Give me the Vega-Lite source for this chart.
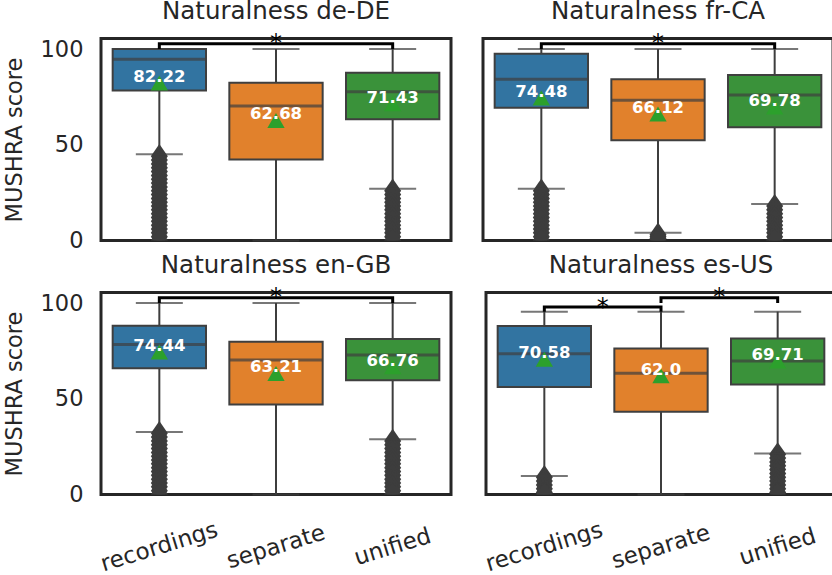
{
"$schema": "https://vega.github.io/schema/vega-lite/v6.json",
"padding": {"left": 1, "top": -3.5, "right": 0, "bottom": 0},
"datasets": {
"rows": [
{"lang":"de-DE","kind":"box","system":"recordings","low":45.0,"q1":78.4,"median":94.6,"q3":100,"high":100,"mean":82.22,"label":"82.22"},
{"lang":"de-DE","kind":"box","system":"separate","low":0,"q1":42.3,"median":70.2,"q3":82.4,"high":100,"mean":62.68,"label":"62.68"},
{"lang":"de-DE","kind":"box","system":"unified","low":27.0,"q1":63.3,"median":77.7,"q3":87.6,"high":100,"mean":71.43,"label":"71.43"},
{"lang":"fr-CA","kind":"box","system":"recordings","low":27.0,"q1":69.3,"median":84.2,"q3":97.5,"high":100,"mean":74.48,"label":"74.48"},
{"lang":"fr-CA","kind":"box","system":"separate","low":4.0,"q1":52.3,"median":73.2,"q3":84.2,"high":100,"mean":66.12,"label":"66.12"},
{"lang":"fr-CA","kind":"box","system":"unified","low":19.1,"q1":59.2,"median":76.0,"q3":86.4,"high":100,"mean":69.78,"label":"69.78"},
{"lang":"en-GB","kind":"box","system":"recordings","low":32.7,"q1":65.9,"median":78.4,"q3":88.1,"high":100,"mean":74.44,"label":"74.44"},
{"lang":"en-GB","kind":"box","system":"separate","low":0,"q1":47.0,"median":70.2,"q3":79.8,"high":100,"mean":63.21,"label":"63.21"},
{"lang":"en-GB","kind":"box","system":"unified","low":28.9,"q1":59.7,"median":72.8,"q3":81.2,"high":100,"mean":66.76,"label":"66.76"},
{"lang":"es-US","kind":"box","system":"recordings","low":9.6,"q1":56.1,"median":73.5,"q3":88.0,"high":95.5,"mean":70.58,"label":"70.58"},
{"lang":"es-US","kind":"box","system":"separate","low":0,"q1":43.2,"median":63.3,"q3":76.3,"high":95.5,"mean":62.0,"label":"62.0"},
{"lang":"es-US","kind":"box","system":"unified","low":21.4,"q1":57.5,"median":69.7,"q3":81.5,"high":95.5,"mean":69.71,"label":"69.71"},
{"lang":"de-DE","kind":"br","id":1,"o":1,"system":"recordings","y":100},
{"lang":"de-DE","kind":"br","id":1,"o":2,"system":"recordings","y":102.8},
{"lang":"de-DE","kind":"br","id":1,"o":3,"system":"unified","y":102.8},
{"lang":"de-DE","kind":"br","id":1,"o":4,"system":"unified","y":100},
{"lang":"fr-CA","kind":"br","id":1,"o":1,"system":"recordings","y":100},
{"lang":"fr-CA","kind":"br","id":1,"o":2,"system":"recordings","y":102.8},
{"lang":"fr-CA","kind":"br","id":1,"o":3,"system":"unified","y":102.8},
{"lang":"fr-CA","kind":"br","id":1,"o":4,"system":"unified","y":100},
{"lang":"en-GB","kind":"br","id":1,"o":1,"system":"recordings","y":100},
{"lang":"en-GB","kind":"br","id":1,"o":2,"system":"recordings","y":102.8},
{"lang":"en-GB","kind":"br","id":1,"o":3,"system":"unified","y":102.8},
{"lang":"en-GB","kind":"br","id":1,"o":4,"system":"unified","y":100},
{"lang":"es-US","kind":"br","id":1,"o":1,"system":"recordings","y":95.5},
{"lang":"es-US","kind":"br","id":1,"o":2,"system":"recordings","y":97.9},
{"lang":"es-US","kind":"br","id":1,"o":3,"system":"separate","y":97.9},
{"lang":"es-US","kind":"br","id":1,"o":4,"system":"separate","y":95.5},
{"lang":"es-US","kind":"br","id":2,"o":1,"system":"separate","y":100},
{"lang":"es-US","kind":"br","id":2,"o":2,"system":"separate","y":102.8},
{"lang":"es-US","kind":"br","id":2,"o":3,"system":"unified","y":102.8},
{"lang":"es-US","kind":"br","id":2,"o":4,"system":"unified","y":100},
{"lang":"de-DE","kind":"sc","system":"separate","y":102.8},
{"lang":"fr-CA","kind":"sc","system":"separate","y":102.8},
{"lang":"en-GB","kind":"sc","system":"separate","y":102.8},
{"lang":"es-US","kind":"se","system":"recordings","y":97.9},
{"lang":"es-US","kind":"se","system":"separate","y":102.8},
{"lang":"de-DE","kind":"out","system":"recordings","score":44},{"lang":"de-DE","kind":"out","system":"recordings","score":42},{"lang":"de-DE","kind":"out","system":"recordings","score":40},{"lang":"de-DE","kind":"out","system":"recordings","score":38},{"lang":"de-DE","kind":"out","system":"recordings","score":36},{"lang":"de-DE","kind":"out","system":"recordings","score":34},{"lang":"de-DE","kind":"out","system":"recordings","score":32},{"lang":"de-DE","kind":"out","system":"recordings","score":30},{"lang":"de-DE","kind":"out","system":"recordings","score":28},{"lang":"de-DE","kind":"out","system":"recordings","score":26},{"lang":"de-DE","kind":"out","system":"recordings","score":24},{"lang":"de-DE","kind":"out","system":"recordings","score":22},{"lang":"de-DE","kind":"out","system":"recordings","score":20},{"lang":"de-DE","kind":"out","system":"recordings","score":18},{"lang":"de-DE","kind":"out","system":"recordings","score":16},{"lang":"de-DE","kind":"out","system":"recordings","score":14},{"lang":"de-DE","kind":"out","system":"recordings","score":12},{"lang":"de-DE","kind":"out","system":"recordings","score":10},{"lang":"de-DE","kind":"out","system":"recordings","score":8},{"lang":"de-DE","kind":"out","system":"recordings","score":6},{"lang":"de-DE","kind":"out","system":"recordings","score":4},{"lang":"de-DE","kind":"out","system":"recordings","score":2},{"lang":"de-DE","kind":"out","system":"recordings","score":0},
{"lang":"de-DE","kind":"out","system":"unified","score":26},{"lang":"de-DE","kind":"out","system":"unified","score":24},{"lang":"de-DE","kind":"out","system":"unified","score":22},{"lang":"de-DE","kind":"out","system":"unified","score":20},{"lang":"de-DE","kind":"out","system":"unified","score":18},{"lang":"de-DE","kind":"out","system":"unified","score":16},{"lang":"de-DE","kind":"out","system":"unified","score":14},{"lang":"de-DE","kind":"out","system":"unified","score":12},{"lang":"de-DE","kind":"out","system":"unified","score":10},{"lang":"de-DE","kind":"out","system":"unified","score":8},{"lang":"de-DE","kind":"out","system":"unified","score":6},{"lang":"de-DE","kind":"out","system":"unified","score":4},{"lang":"de-DE","kind":"out","system":"unified","score":2},{"lang":"de-DE","kind":"out","system":"unified","score":0},
{"lang":"fr-CA","kind":"out","system":"recordings","score":26},{"lang":"fr-CA","kind":"out","system":"recordings","score":24},{"lang":"fr-CA","kind":"out","system":"recordings","score":22},{"lang":"fr-CA","kind":"out","system":"recordings","score":20},{"lang":"fr-CA","kind":"out","system":"recordings","score":18},{"lang":"fr-CA","kind":"out","system":"recordings","score":16},{"lang":"fr-CA","kind":"out","system":"recordings","score":14},{"lang":"fr-CA","kind":"out","system":"recordings","score":12},{"lang":"fr-CA","kind":"out","system":"recordings","score":10},{"lang":"fr-CA","kind":"out","system":"recordings","score":8},{"lang":"fr-CA","kind":"out","system":"recordings","score":6},{"lang":"fr-CA","kind":"out","system":"recordings","score":4},{"lang":"fr-CA","kind":"out","system":"recordings","score":2},{"lang":"fr-CA","kind":"out","system":"recordings","score":0},
{"lang":"fr-CA","kind":"out","system":"separate","score":3},{"lang":"fr-CA","kind":"out","system":"separate","score":2},{"lang":"fr-CA","kind":"out","system":"separate","score":1},{"lang":"fr-CA","kind":"out","system":"separate","score":0},
{"lang":"fr-CA","kind":"out","system":"unified","score":18},{"lang":"fr-CA","kind":"out","system":"unified","score":16},{"lang":"fr-CA","kind":"out","system":"unified","score":14},{"lang":"fr-CA","kind":"out","system":"unified","score":12},{"lang":"fr-CA","kind":"out","system":"unified","score":10},{"lang":"fr-CA","kind":"out","system":"unified","score":8},{"lang":"fr-CA","kind":"out","system":"unified","score":6},{"lang":"fr-CA","kind":"out","system":"unified","score":4},{"lang":"fr-CA","kind":"out","system":"unified","score":2},{"lang":"fr-CA","kind":"out","system":"unified","score":0},
{"lang":"en-GB","kind":"out","system":"recordings","score":32},{"lang":"en-GB","kind":"out","system":"recordings","score":30},{"lang":"en-GB","kind":"out","system":"recordings","score":28},{"lang":"en-GB","kind":"out","system":"recordings","score":26},{"lang":"en-GB","kind":"out","system":"recordings","score":24},{"lang":"en-GB","kind":"out","system":"recordings","score":22},{"lang":"en-GB","kind":"out","system":"recordings","score":20},{"lang":"en-GB","kind":"out","system":"recordings","score":18},{"lang":"en-GB","kind":"out","system":"recordings","score":16},{"lang":"en-GB","kind":"out","system":"recordings","score":14},{"lang":"en-GB","kind":"out","system":"recordings","score":12},{"lang":"en-GB","kind":"out","system":"recordings","score":10},{"lang":"en-GB","kind":"out","system":"recordings","score":8},{"lang":"en-GB","kind":"out","system":"recordings","score":6},{"lang":"en-GB","kind":"out","system":"recordings","score":4},{"lang":"en-GB","kind":"out","system":"recordings","score":2},{"lang":"en-GB","kind":"out","system":"recordings","score":0},
{"lang":"en-GB","kind":"out","system":"unified","score":28},{"lang":"en-GB","kind":"out","system":"unified","score":26},{"lang":"en-GB","kind":"out","system":"unified","score":24},{"lang":"en-GB","kind":"out","system":"unified","score":22},{"lang":"en-GB","kind":"out","system":"unified","score":20},{"lang":"en-GB","kind":"out","system":"unified","score":18},{"lang":"en-GB","kind":"out","system":"unified","score":16},{"lang":"en-GB","kind":"out","system":"unified","score":14},{"lang":"en-GB","kind":"out","system":"unified","score":12},{"lang":"en-GB","kind":"out","system":"unified","score":10},{"lang":"en-GB","kind":"out","system":"unified","score":8},{"lang":"en-GB","kind":"out","system":"unified","score":6},{"lang":"en-GB","kind":"out","system":"unified","score":4},{"lang":"en-GB","kind":"out","system":"unified","score":2},{"lang":"en-GB","kind":"out","system":"unified","score":0},
{"lang":"es-US","kind":"out","system":"recordings","score":9},{"lang":"es-US","kind":"out","system":"recordings","score":7},{"lang":"es-US","kind":"out","system":"recordings","score":5},{"lang":"es-US","kind":"out","system":"recordings","score":3},{"lang":"es-US","kind":"out","system":"recordings","score":1},{"lang":"es-US","kind":"out","system":"recordings","score":0},
{"lang":"es-US","kind":"out","system":"unified","score":21},{"lang":"es-US","kind":"out","system":"unified","score":19},{"lang":"es-US","kind":"out","system":"unified","score":17},{"lang":"es-US","kind":"out","system":"unified","score":15},{"lang":"es-US","kind":"out","system":"unified","score":13},{"lang":"es-US","kind":"out","system":"unified","score":11},{"lang":"es-US","kind":"out","system":"unified","score":9},{"lang":"es-US","kind":"out","system":"unified","score":7},{"lang":"es-US","kind":"out","system":"unified","score":5},{"lang":"es-US","kind":"out","system":"unified","score":3},{"lang":"es-US","kind":"out","system":"unified","score":1},{"lang":"es-US","kind":"out","system":"unified","score":0}
]
},
"config": {
  "font": "DejaVu Sans",
  "view": {"stroke": "#262626", "strokeWidth": 3},
  "title": {"fontSize": 24.5, "fontWeight": "normal", "color": "#262626", "frame": "group", "baseline": "alphabetic", "offset": 8, "anchor": "middle"},
  "axis": {"grid": false, "domain": false, "ticks": false, "tickSize": 0, "labelColor": "#262626", "titleColor": "#262626", "labelFontSize": 22.5, "titleFontSize": 22.5, "titleFontWeight": "normal"},
  "axisY": {"tickCount": 3, "labelPadding": 18, "titlePadding": 14},
  "axisX": {"labelAngle": -17, "labelAlign": "center", "labelBaseline": "middle", "labelPadding": 52, "labelFontSize": 23, "labelOverlap": false}
},
"spacing": -3,
"vconcat": [
{"hconcat": [
{
  "width": 350, "height": 202,
  "title": {"text": "Naturalness de-DE"},
  "data": {"name": "rows"},
  "transform": [{"filter": "datum.lang === 'de-DE'"}],
  "encoding": {"x": {"field": "system", "type": "nominal", "scale": {"domain": ["recordings","separate","unified"], "paddingInner": 0, "paddingOuter": 0}, "axis": null}},
  "layer": [
    {"transform": [{"filter": "datum.kind === 'box'"}], "mark": {"type": "rule", "color": "#3d3d3d", "strokeWidth": 2}, "encoding": {"y": {"field": "low", "type": "quantitative", "scale": {"domain": [0, 105.5], "nice": false, "zero": false}, "axis": {"title": "MUSHRA score"}}, "y2": {"field": "high"}}},
    {"transform": [{"filter": "datum.kind === 'out'"}], "mark": {"type": "point", "shape": "M0,-1L0.7,0L0,1L-0.7,0Z", "filled": true, "color": "#3d3d3d", "opacity": 1, "size": 590, "clip": true}, "encoding": {"y": {"field": "score", "type": "quantitative"}}},
    {"transform": [{"filter": "datum.kind === 'box'"}], "mark": {"type": "tick", "color": "#3d3d3d", "size": 47, "thickness": 2}, "encoding": {"y": {"field": "low", "type": "quantitative"}}},
    {"transform": [{"filter": "datum.kind === 'box'"}], "mark": {"type": "tick", "color": "#3d3d3d", "size": 47, "thickness": 2}, "encoding": {"y": {"field": "high", "type": "quantitative"}}},
    {"transform": [{"filter": "datum.kind === 'box'"}], "mark": {"type": "bar", "stroke": "#3f3f3f", "strokeWidth": 2, "width": {"band": 0.8}}, "encoding": {"y": {"field": "q1", "type": "quantitative"}, "y2": {"field": "q3"}, "color": {"field": "system", "type": "nominal", "scale": {"domain": ["recordings","separate","unified"], "range": ["#3274a1","#e1812c","#3a923a"]}, "legend": null}}},
    {"transform": [{"filter": "datum.kind === 'box'"}], "mark": {"type": "tick", "color": "#3f3f3f", "size": 93.3, "thickness": 3}, "encoding": {"y": {"field": "median", "type": "quantitative"}}},
    {"transform": [{"filter": "datum.kind === 'box'"}], "mark": {"type": "point", "shape": "triangle-up", "filled": true, "color": "#2ca02c", "opacity": 1, "size": 300}, "encoding": {"y": {"field": "mean", "type": "quantitative"}}},
    {"transform": [{"filter": "datum.kind === 'box'"}], "mark": {"type": "text", "color": "white", "fontWeight": "bold", "fontSize": 16.5, "baseline": "alphabetic", "dy": -1}, "encoding": {"y": {"field": "mean", "type": "quantitative"}, "text": {"field": "label"}}},
    {"transform": [{"filter": "datum.kind === 'br'"}], "mark": {"type": "line", "color": "black", "strokeWidth": 3}, "encoding": {"y": {"field": "y", "type": "quantitative"}, "detail": {"field": "id"}, "order": {"field": "o"}}},
    {"transform": [{"filter": "datum.kind === 'sc'"}], "mark": {"type": "text", "text": "*", "fontSize": 24, "baseline": "alphabetic", "dy": 7.6, "color": "black"}, "encoding": {"y": {"field": "y", "type": "quantitative"}}},
    {"transform": [{"filter": "datum.kind === 'se'"}], "mark": {"type": "text", "text": "*", "fontSize": 24, "baseline": "alphabetic", "dy": 7.6, "xOffset": 58.3, "color": "black"}, "encoding": {"y": {"field": "y", "type": "quantitative"}}}
  ]
},
{
  "width": 350, "height": 202,
  "title": {"text": "Naturalness fr-CA"},
  "data": {"name": "rows"},
  "transform": [{"filter": "datum.lang === 'fr-CA'"}],
  "encoding": {"x": {"field": "system", "type": "nominal", "scale": {"domain": ["recordings","separate","unified"], "paddingInner": 0, "paddingOuter": 0}, "axis": null}},
  "layer": [
    {"transform": [{"filter": "datum.kind === 'box'"}], "mark": {"type": "rule", "color": "#3d3d3d", "strokeWidth": 2}, "encoding": {"y": {"field": "low", "type": "quantitative", "scale": {"domain": [0, 105.5], "nice": false, "zero": false}, "axis": null}, "y2": {"field": "high"}}},
    {"transform": [{"filter": "datum.kind === 'out'"}], "mark": {"type": "point", "shape": "M0,-1L0.7,0L0,1L-0.7,0Z", "filled": true, "color": "#3d3d3d", "opacity": 1, "size": 590, "clip": true}, "encoding": {"y": {"field": "score", "type": "quantitative", "axis": null}}},
    {"transform": [{"filter": "datum.kind === 'box'"}], "mark": {"type": "tick", "color": "#3d3d3d", "size": 47, "thickness": 2}, "encoding": {"y": {"field": "low", "type": "quantitative", "axis": null}}},
    {"transform": [{"filter": "datum.kind === 'box'"}], "mark": {"type": "tick", "color": "#3d3d3d", "size": 47, "thickness": 2}, "encoding": {"y": {"field": "high", "type": "quantitative", "axis": null}}},
    {"transform": [{"filter": "datum.kind === 'box'"}], "mark": {"type": "bar", "stroke": "#3f3f3f", "strokeWidth": 2, "width": {"band": 0.8}}, "encoding": {"y": {"field": "q1", "type": "quantitative", "axis": null}, "y2": {"field": "q3"}, "color": {"field": "system", "type": "nominal", "scale": {"domain": ["recordings","separate","unified"], "range": ["#3274a1","#e1812c","#3a923a"]}, "legend": null}}},
    {"transform": [{"filter": "datum.kind === 'box'"}], "mark": {"type": "tick", "color": "#3f3f3f", "size": 93.3, "thickness": 3}, "encoding": {"y": {"field": "median", "type": "quantitative", "axis": null}}},
    {"transform": [{"filter": "datum.kind === 'box'"}], "mark": {"type": "point", "shape": "triangle-up", "filled": true, "color": "#2ca02c", "opacity": 1, "size": 300}, "encoding": {"y": {"field": "mean", "type": "quantitative", "axis": null}}},
    {"transform": [{"filter": "datum.kind === 'box'"}], "mark": {"type": "text", "color": "white", "fontWeight": "bold", "fontSize": 16.5, "baseline": "alphabetic", "dy": -1}, "encoding": {"y": {"field": "mean", "type": "quantitative", "axis": null}, "text": {"field": "label"}}},
    {"transform": [{"filter": "datum.kind === 'br'"}], "mark": {"type": "line", "color": "black", "strokeWidth": 3}, "encoding": {"y": {"field": "y", "type": "quantitative", "axis": null}, "detail": {"field": "id"}, "order": {"field": "o"}}},
    {"transform": [{"filter": "datum.kind === 'sc'"}], "mark": {"type": "text", "text": "*", "fontSize": 24, "baseline": "alphabetic", "dy": 7.6, "color": "black"}, "encoding": {"y": {"field": "y", "type": "quantitative", "axis": null}}},
    {"transform": [{"filter": "datum.kind === 'se'"}], "mark": {"type": "text", "text": "*", "fontSize": 24, "baseline": "alphabetic", "dy": 7.6, "xOffset": 58.3, "color": "black"}, "encoding": {"y": {"field": "y", "type": "quantitative", "axis": null}}}
  ]
}
], "spacing": 28},
{"hconcat": [
{
  "width": 350, "height": 202,
  "title": {"text": "Naturalness en-GB"},
  "data": {"name": "rows"},
  "transform": [{"filter": "datum.lang === 'en-GB'"}],
  "encoding": {"x": {"field": "system", "type": "nominal", "scale": {"domain": ["recordings","separate","unified"], "paddingInner": 0, "paddingOuter": 0}, "axis": {"title": null}}},
  "layer": [
    {"transform": [{"filter": "datum.kind === 'box'"}], "mark": {"type": "rule", "color": "#3d3d3d", "strokeWidth": 2}, "encoding": {"y": {"field": "low", "type": "quantitative", "scale": {"domain": [0, 105.5], "nice": false, "zero": false}, "axis": {"title": "MUSHRA score"}}, "y2": {"field": "high"}}},
    {"transform": [{"filter": "datum.kind === 'out'"}], "mark": {"type": "point", "shape": "M0,-1L0.7,0L0,1L-0.7,0Z", "filled": true, "color": "#3d3d3d", "opacity": 1, "size": 590, "clip": true}, "encoding": {"y": {"field": "score", "type": "quantitative"}}},
    {"transform": [{"filter": "datum.kind === 'box'"}], "mark": {"type": "tick", "color": "#3d3d3d", "size": 47, "thickness": 2}, "encoding": {"y": {"field": "low", "type": "quantitative"}}},
    {"transform": [{"filter": "datum.kind === 'box'"}], "mark": {"type": "tick", "color": "#3d3d3d", "size": 47, "thickness": 2}, "encoding": {"y": {"field": "high", "type": "quantitative"}}},
    {"transform": [{"filter": "datum.kind === 'box'"}], "mark": {"type": "bar", "stroke": "#3f3f3f", "strokeWidth": 2, "width": {"band": 0.8}}, "encoding": {"y": {"field": "q1", "type": "quantitative"}, "y2": {"field": "q3"}, "color": {"field": "system", "type": "nominal", "scale": {"domain": ["recordings","separate","unified"], "range": ["#3274a1","#e1812c","#3a923a"]}, "legend": null}}},
    {"transform": [{"filter": "datum.kind === 'box'"}], "mark": {"type": "tick", "color": "#3f3f3f", "size": 93.3, "thickness": 3}, "encoding": {"y": {"field": "median", "type": "quantitative"}}},
    {"transform": [{"filter": "datum.kind === 'box'"}], "mark": {"type": "point", "shape": "triangle-up", "filled": true, "color": "#2ca02c", "opacity": 1, "size": 300}, "encoding": {"y": {"field": "mean", "type": "quantitative"}}},
    {"transform": [{"filter": "datum.kind === 'box'"}], "mark": {"type": "text", "color": "white", "fontWeight": "bold", "fontSize": 16.5, "baseline": "alphabetic", "dy": -1}, "encoding": {"y": {"field": "mean", "type": "quantitative"}, "text": {"field": "label"}}},
    {"transform": [{"filter": "datum.kind === 'br'"}], "mark": {"type": "line", "color": "black", "strokeWidth": 3}, "encoding": {"y": {"field": "y", "type": "quantitative"}, "detail": {"field": "id"}, "order": {"field": "o"}}},
    {"transform": [{"filter": "datum.kind === 'sc'"}], "mark": {"type": "text", "text": "*", "fontSize": 24, "baseline": "alphabetic", "dy": 7.6, "color": "black"}, "encoding": {"y": {"field": "y", "type": "quantitative"}}},
    {"transform": [{"filter": "datum.kind === 'se'"}], "mark": {"type": "text", "text": "*", "fontSize": 24, "baseline": "alphabetic", "dy": 7.6, "xOffset": 58.3, "color": "black"}, "encoding": {"y": {"field": "y", "type": "quantitative"}}}
  ]
},
{
  "width": 350, "height": 202,
  "title": {"text": "Naturalness es-US"},
  "data": {"name": "rows"},
  "transform": [{"filter": "datum.lang === 'es-US'"}],
  "encoding": {"x": {"field": "system", "type": "nominal", "scale": {"domain": ["recordings","separate","unified"], "paddingInner": 0, "paddingOuter": 0}, "axis": {"title": null}}},
  "layer": [
    {"transform": [{"filter": "datum.kind === 'box'"}], "mark": {"type": "rule", "color": "#3d3d3d", "strokeWidth": 2}, "encoding": {"y": {"field": "low", "type": "quantitative", "scale": {"domain": [0, 105.5], "nice": false, "zero": false}, "axis": null}, "y2": {"field": "high"}}},
    {"transform": [{"filter": "datum.kind === 'out'"}], "mark": {"type": "point", "shape": "M0,-1L0.7,0L0,1L-0.7,0Z", "filled": true, "color": "#3d3d3d", "opacity": 1, "size": 590, "clip": true}, "encoding": {"y": {"field": "score", "type": "quantitative", "axis": null}}},
    {"transform": [{"filter": "datum.kind === 'box'"}], "mark": {"type": "tick", "color": "#3d3d3d", "size": 47, "thickness": 2}, "encoding": {"y": {"field": "low", "type": "quantitative", "axis": null}}},
    {"transform": [{"filter": "datum.kind === 'box'"}], "mark": {"type": "tick", "color": "#3d3d3d", "size": 47, "thickness": 2}, "encoding": {"y": {"field": "high", "type": "quantitative", "axis": null}}},
    {"transform": [{"filter": "datum.kind === 'box'"}], "mark": {"type": "bar", "stroke": "#3f3f3f", "strokeWidth": 2, "width": {"band": 0.8}}, "encoding": {"y": {"field": "q1", "type": "quantitative", "axis": null}, "y2": {"field": "q3"}, "color": {"field": "system", "type": "nominal", "scale": {"domain": ["recordings","separate","unified"], "range": ["#3274a1","#e1812c","#3a923a"]}, "legend": null}}},
    {"transform": [{"filter": "datum.kind === 'box'"}], "mark": {"type": "tick", "color": "#3f3f3f", "size": 93.3, "thickness": 3}, "encoding": {"y": {"field": "median", "type": "quantitative", "axis": null}}},
    {"transform": [{"filter": "datum.kind === 'box'"}], "mark": {"type": "point", "shape": "triangle-up", "filled": true, "color": "#2ca02c", "opacity": 1, "size": 300}, "encoding": {"y": {"field": "mean", "type": "quantitative", "axis": null}}},
    {"transform": [{"filter": "datum.kind === 'box'"}], "mark": {"type": "text", "color": "white", "fontWeight": "bold", "fontSize": 16.5, "baseline": "alphabetic", "dy": -1}, "encoding": {"y": {"field": "mean", "type": "quantitative", "axis": null}, "text": {"field": "label"}}},
    {"transform": [{"filter": "datum.kind === 'br'"}], "mark": {"type": "line", "color": "black", "strokeWidth": 3}, "encoding": {"y": {"field": "y", "type": "quantitative", "axis": null}, "detail": {"field": "id"}, "order": {"field": "o"}}},
    {"transform": [{"filter": "datum.kind === 'sc'"}], "mark": {"type": "text", "text": "*", "fontSize": 24, "baseline": "alphabetic", "dy": 7.6, "color": "black"}, "encoding": {"y": {"field": "y", "type": "quantitative", "axis": null}}},
    {"transform": [{"filter": "datum.kind === 'se'"}], "mark": {"type": "text", "text": "*", "fontSize": 24, "baseline": "alphabetic", "dy": 7.6, "xOffset": 58.3, "color": "black"}, "encoding": {"y": {"field": "y", "type": "quantitative", "axis": null}}}
  ]
}
], "spacing": 28}
]
}
